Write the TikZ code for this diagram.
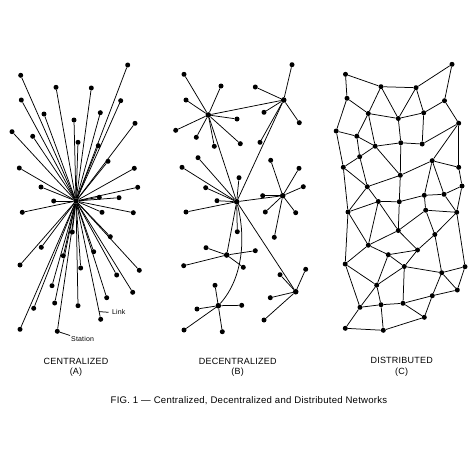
\documentclass[tikz,border=0pt]{standalone}
\usepackage{fontspec}
\usepackage{tikz}
\usetikzlibrary{calc}
\newfontfamily\leroy[LetterSpace=2.5]{Liberation Sans}

\tikzset{
  stn/.style={circle, fill=black, inner sep=0pt, minimum size=5pt},
  hub/.style={circle, fill=black, inner sep=0pt, minimum size=5.6pt},
  lnk/.style={line width=0.75pt},
  ttl/.style={font=\leroy\fontsize{9}{10}\selectfont},
  figcap/.style={font=\leroy\fontsize{9.6}{11}\selectfont},
  tag/.style={font=\leroy\fontsize{7}{8}\selectfont}
}

\begin{document}
\begin{tikzpicture}[x=1pt, y=-1pt]
  \useasboundingbox (0,0) rectangle (474,474);

  % (A) centralized
  \node[hub] (hubA) at (76,201) {};
  \foreach \n/\x/\y in {1/127.7/65, 2/20.7/75.3, 3/56/87.3, 4/91.3/88, 5/21.3/100,
      6/120.7/100.7, 7/44/114, 8/100.3/112.7, 9/74/120, 10/135/123.3, 11/12/131.7,
      12/32.7/136.3, 13/78/142.3, 14/98.3/145.7, 15/108/161.3, 16/19.3/168,
      17/134.3/168.3, 18/41/187, 19/137.7/187.3, 20/99.3/197.3, 21/119/197.7,
      22/53.7/201, 23/22.3/212.3, 24/102/212.3, 25/133.3/212.7, 26/72.3/232,
      27/110.3/236.7, 28/41.3/247.3, 29/93.7/251.7, 30/63.3/255.7, 31/20/265,
      32/80.7/268, 33/139.3/270.3, 34/116.7/275, 35/52/285.7, 36/132.7/292.3,
      37/106.7/297.7, 38/54.7/303, 39/33.7/308.3, 40/78/305.7, 41/100.7/319.3,
      42/20/329.3, 43/57.3/331.3}
  {
    \node[stn] (a\n) at (\x,\y) {};
    \draw[lnk] (hubA) -- (a\n);
  }
  \node[tag, anchor=west] (linklbl) at (108.5,312.3) {Link};
  \coordinate (linkpt) at ($(hubA)!0.935!(a41)$);
  \draw[lnk] (linkpt) -- (linklbl.west);
  \node[tag, anchor=north west, inner sep=1pt] (stnlbl) at (70,335.5) {Station};
  \draw[lnk] (a43) -- (stnlbl.north west);
  \node[ttl] (capA) at (76,361) {CENTRALIZED};
  \node[ttl] at (76,372.3) {(A)};

  % (B) decentralized
  \foreach \n/\x/\y in {1/208.3/115, 2/283.7/100, 3/236.7/201.7, 4/282.7/195.7,
      5/226.7/255, 6/218.3/305.7, 7/295.7/291.7}
    \node[hub] (b\n) at (\x,\y) {};
  \foreach \h/\n/\x/\y in {1/1/184/74.3, 1/2/221/86, 1/3/186/100, 1/4/175.7/130.3,
      1/5/196.3/137.3, 1/6/214.3/146.3, 1/7/240.3/143.7, 1/8/237/119,
      2/1/292/64.7, 2/2/255.3/87, 2/3/264/112.3, 2/4/299.3/122.7, 2/5/260/142.3,
      3/1/198/157.7, 3/2/182/167.3, 3/3/205.7/187.7, 3/4/217/200.7, 3/5/186/212,
      3/6/239/177.7, 3/7/237.3/231.7,
      4/1/270.7/160.3, 4/2/299/168.3, 4/3/303.3/186.7, 4/4/262.7/195.7,
      4/5/265.3/212, 4/6/295.7/212.7, 4/7/274.3/237.3,
      5/1/206/247.7, 5/2/255.3/250.7, 5/3/183.7/265.7, 5/4/243.3/267.3,
      6/1/215/285.3, 6/2/197/309, 6/3/241.7/305.3, 6/4/184/330, 6/5/222.3/331.7,
      7/1/280/274.7, 7/2/305.7/269.3, 7/3/270.3/297.7, 7/4/264/320}
  {
    \node[stn] (b\h s\n) at (\x,\y) {};
    \draw[lnk] (b\h) -- (b\h s\n);
  }
  \draw[lnk] (b1) -- (b2);
  \draw[lnk] (b1) -- (b3);
  \draw[lnk] (b2) -- (b3);
  \draw[lnk] (b3) -- (b4);
  \draw[lnk] (b3) -- (b5);
  \draw[lnk] (b3) -- (b7);
  \draw[lnk] (b3) .. controls (246,238) and (243,278) .. (b6);
  \node[ttl] (capB) at (237.7,361) {DECENTRALIZED};
  \node[ttl] at (237.7,372.3) {(B)};

  % (C) distributed
  \foreach \n/\x/\y in {1/345.5/74.3, 2/381/86.7, 3/416/87.7, 4/452/64.3,
      5/347/98.3, 6/444.5/100.7, 7/368.3/113.5, 8/398.3/118.5, 9/423.7/112.8,
      10/336.2/131, 11/458.7/123.2, 12/356.8/136.2, 13/375.2/146.2,
      14/400.8/142.8, 15/422.2/144, 16/359.7/156.7, 17/432.2/160.7,
      18/343.3/167.3, 19/458.7/167.3, 20/400.3/175.3, 21/367.3/186.7,
      22/462/186, 23/424.3/195.3, 24/444/194.3, 25/378.3/201.5, 26/399.3/201.7,
      27/348/212, 28/425.7/210.2, 29/456.7/212.3, 30/398.3/230.5,
      31/434.8/234.5, 32/368.3/245.2, 33/388.3/254.7, 34/417.5/250,
      35/345.2/264, 36/404.3/266.5, 37/441.7/272.7, 38/465/266.7,
      39/376.7/285.2, 40/457.3/290, 41/432.3/295.7, 42/360/307.3,
      43/381/304.7, 44/403/303.3, 45/424.3/317.3, 46/345.3/328.3, 47/383.3/330.3}
    \node[stn] (c\n) at (\x,\y) {};
  \foreach \a/\b in {1/2, 2/3, 3/4, 1/5, 4/6, 5/7, 2/7, 2/8, 3/8, 3/9, 7/8, 8/9,
      9/6, 6/11, 5/10, 10/12, 7/12, 7/13, 12/13, 8/14, 13/14, 14/15, 9/15, 11/15,
      11/17, 11/19, 10/18, 12/16, 13/16, 16/18, 16/21, 18/21, 13/20, 14/20,
      17/20, 17/19, 20/21, 20/26, 17/23, 17/24, 23/24, 19/22, 22/24, 21/25,
      21/27, 18/27, 25/27, 25/26, 26/23, 23/28, 28/29, 24/29, 22/29, 25/30,
      26/30, 25/32, 27/32, 27/35, 30/28, 28/31, 29/31, 30/32, 30/34, 31/34,
      32/33, 33/34, 33/36, 34/36, 31/37, 29/38, 37/38, 36/37, 32/35, 35/39,
      36/39, 33/39, 35/42, 39/42, 39/43, 42/43, 43/44, 36/44, 44/45, 43/47,
      45/47, 44/41, 41/40, 37/41, 37/40, 38/40, 41/45, 42/46, 46/47}
    \draw[lnk] (c\a) -- (c\b);
  \node[ttl] (capC) at (401.7,360.5) {DISTRIBUTED};
  \node[ttl] at (401.7,372.3) {(C)};

  % caption
  \node[figcap] (fig) at (249,400.7) {FIG. 1 — Centralized, Decentralized and Distributed Networks};
\end{tikzpicture}
\end{document}
